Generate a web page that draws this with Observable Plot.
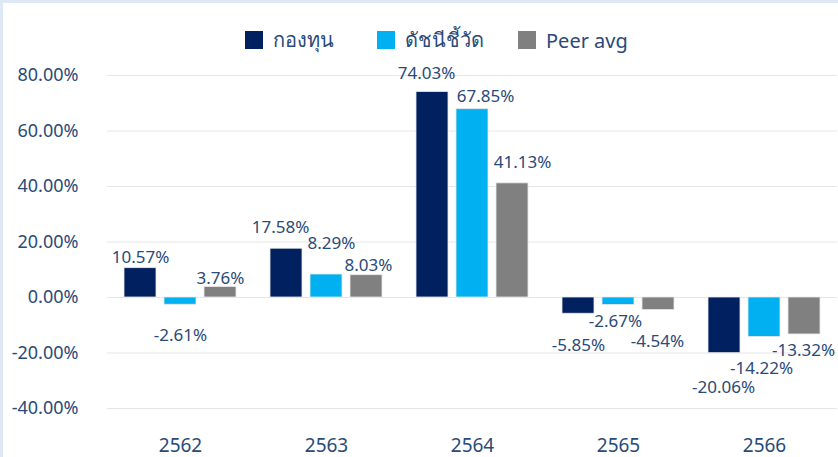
<!DOCTYPE html>
<html>
<head>
<meta charset="utf-8">
<script src="https://cdn.jsdelivr.net/npm/d3@7"></script>
<script src="https://cdn.jsdelivr.net/npm/@observablehq/plot@0.6"></script>
<style>
  html, body { margin: 0; padding: 0; background: #fff; }
  #wrap {
    position: relative; width: 835px; height: 454px;
    border-top: 3px solid #dfe9f5; border-left: 3px solid #dfe9f5;
    font-family: "Noto Sans", "Open Sans", sans-serif; color: #2a4a78;
  }
  #legend { position: absolute; left: 0; top: 28px; height: 18px; width: 835px; font-size: 20px; z-index: 2; }
  .item { position: absolute; top: 0; height: 18px; display: flex; align-items: center; white-space: nowrap; }
  .sw { width: 18px; height: 18px; margin-right: 10px; flex: none; }
  #chart { position: absolute; left: 0; top: 50px; z-index: 1; }
</style>
</head>
<body>
<div id="wrap">
  <div id="legend"></div>
  <div id="chart"></div>
</div>
<script>
const years = ["2562", "2563", "2564", "2565", "2566"];
const seriesNames = ["กองทุน", "ดัชนีชี้วัด", "Peer avg"];
const fund = [10.57, 17.58, 74.03, -5.85, -20.06];
const benchmark = [-2.61, 8.29, 67.85, -2.67, -14.22];
const peer = [3.76, 8.03, 41.13, -4.54, -13.32];
const yTicks = [-40, -20, 0, 20, 40, 60, 80];
const colors = ["#002060", "#00B0F0", "#808080"];

// legend item left offsets (px)
const legendLeft = [242, 374, 515];

// label placement nudges (px) relative to bar end: [dx, dy] per series per year
const labelNudge = [
  [[0, -11], [-6, -21], [-6, -19], [0, 32], [-1, 34]],
  [[0, 31], [5, -31], [13, -13], [-3, 17], [-3, 32]],
  [[0, -9], [2, -10], [10, -21], [-1, 31], [-1, 16]]
];

const seriesValues = [fund, benchmark, peer];
const rows = [];
years.forEach((yr, i) => {
  seriesNames.forEach((s, j) => {
    rows.push({year: yr, series: s, value: seriesValues[j][i], dx: labelNudge[j][i][0], dy: labelNudge[j][i][1]});
  });
});

// legend
const legend = document.getElementById("legend");
seriesNames.forEach((s, j) => {
  const it = document.createElement("div");
  it.className = "item";
  it.style.left = legendLeft[j] + "px";
  it.innerHTML = `<span class="sw" style="background:${colors[j]}"></span><span>${s}</span>`;
  legend.appendChild(it);
});

const fmt = d => d.toFixed(2) + "%";

const chart = Plot.plot({
  width: 835,
  height: 404,
  marginLeft: 103,
  marginRight: 1,
  marginTop: 22,
  marginBottom: 49,
  style: {fontFamily: "'Noto Sans', 'Open Sans', sans-serif", fontSize: "17px", color: "#2a4a78", background: "transparent"},
  fx: {domain: years, paddingInner: 0.22, paddingOuter: 0.11, label: null},
  x: {domain: seriesNames, paddingInner: 0.2, paddingOuter: 0, axis: null},
  y: {domain: [-40, 80], axis: null},
  color: {domain: seriesNames, range: colors},
  marks: [
    Plot.ruleY(yTicks, {stroke: "#e6e6e6", strokeWidth: 1, insetLeft: -16.1, insetRight: -16.1}),
    Plot.axisY(yTicks, {tickSize: 0, tickPadding: 45, tickFormat: fmt, label: null, fontSize: 18}),
    Plot.axisFx({anchor: "bottom", tickSize: 0, tickPadding: 30, label: null, fontSize: 19}),
    Plot.barY(rows, {fx: "year", x: "series", y: "value", fill: "series", stroke: "#e8e8e8", strokeWidth: 0.8}),
    ...rows.map(r => Plot.text([r], {
      fx: "year", x: "series", y: "value",
      text: d => fmt(d.value),
      dx: r.dx, dy: r.dy, lineAnchor: "middle", fontSize: 17
    }))
  ]
});
document.getElementById("chart").appendChild(chart);
</script>
</body>
</html>
